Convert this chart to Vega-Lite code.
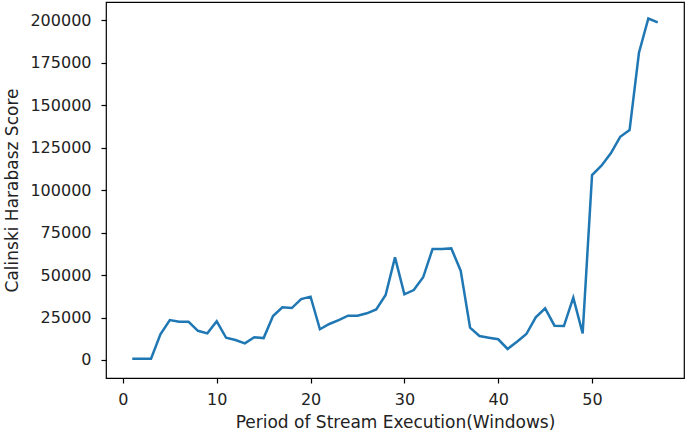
{
  "$schema": "https://vega.github.io/schema/vega-lite/v6.json",
  "width": 578,
  "height": 376,
  "autosize": {"type": "none"},
  "padding": {"left": 106, "top": 2, "right": 1, "bottom": 55},
  "background": "#ffffff",
  "config": {
    "view": {"stroke": "#000000", "strokeWidth": 1.2},
    "font": "DejaVu Sans",
    "axis": {
      "grid": false,
      "domain": false,
      "tickColor": "#000000",
      "tickSize": 5,
      "tickWidth": 1.2,
      "labelFont": "DejaVu Sans",
      "labelFontSize": 16,
      "labelColor": "#222222",
      "titleFont": "DejaVu Sans",
      "titleFontSize": 17,
      "titleFontWeight": "normal",
      "titleColor": "#222222"
    }
  },
  "data": {
    "values": [
      {"window": 1, "score": 800},
      {"window": 2, "score": 800},
      {"window": 3, "score": 800},
      {"window": 4, "score": 15100},
      {"window": 5, "score": 23500},
      {"window": 6, "score": 22500},
      {"window": 7, "score": 22500},
      {"window": 8, "score": 17200},
      {"window": 9, "score": 15700},
      {"window": 10, "score": 22800},
      {"window": 11, "score": 13100},
      {"window": 12, "score": 11800},
      {"window": 13, "score": 9800},
      {"window": 14, "score": 13400},
      {"window": 15, "score": 12900},
      {"window": 16, "score": 25900},
      {"window": 17, "score": 31000},
      {"window": 18, "score": 30600},
      {"window": 19, "score": 35900},
      {"window": 20, "score": 37300},
      {"window": 21, "score": 18100},
      {"window": 22, "score": 21200},
      {"window": 23, "score": 23500},
      {"window": 24, "score": 26100},
      {"window": 25, "score": 26100},
      {"window": 26, "score": 27500},
      {"window": 27, "score": 29800},
      {"window": 28, "score": 38300},
      {"window": 29, "score": 60400},
      {"window": 30, "score": 38700},
      {"window": 31, "score": 41200},
      {"window": 32, "score": 48700},
      {"window": 33, "score": 65300},
      {"window": 34, "score": 65300},
      {"window": 35, "score": 65700},
      {"window": 36, "score": 52600},
      {"window": 37, "score": 19000},
      {"window": 38, "score": 14100},
      {"window": 39, "score": 13100},
      {"window": 40, "score": 12200},
      {"window": 41, "score": 6500},
      {"window": 42, "score": 10800},
      {"window": 43, "score": 15300},
      {"window": 44, "score": 25100},
      {"window": 45, "score": 30400},
      {"window": 46, "score": 20200},
      {"window": 47, "score": 20000},
      {"window": 48, "score": 36700},
      {"window": 49, "score": 15700},
      {"window": 50, "score": 108900},
      {"window": 51, "score": 114400},
      {"window": 52, "score": 121700},
      {"window": 53, "score": 131400},
      {"window": 54, "score": 135400},
      {"window": 55, "score": 180900},
      {"window": 56, "score": 201100},
      {"window": 57, "score": 198800}
    ]
  },
  "mark": {"type": "line", "color": "#1f77b4", "strokeWidth": 2.5},
  "encoding": {
    "x": {
      "field": "window",
      "type": "quantitative",
      "scale": {"domain": [-1.8, 59.8], "nice": false, "zero": false},
      "axis": {
        "title": "Period of Stream Execution(Windows)",
        "values": [0, 10, 20, 30, 40, 50],
        "labelPadding": 8,
        "titlePadding": 7,
        "labelFlush": false
      }
    },
    "y": {
      "field": "score",
      "type": "quantitative",
      "scale": {"domain": [-10600, 210800], "nice": false, "zero": false},
      "axis": {
        "title": "Calinski Harabasz Score",
        "values": [0, 25000, 50000, 75000, 100000, 125000, 150000, 175000, 200000],
        "format": "d",
        "labelPadding": 10,
        "titlePadding": 8,
        "labelFlush": false
      }
    }
  }
}
